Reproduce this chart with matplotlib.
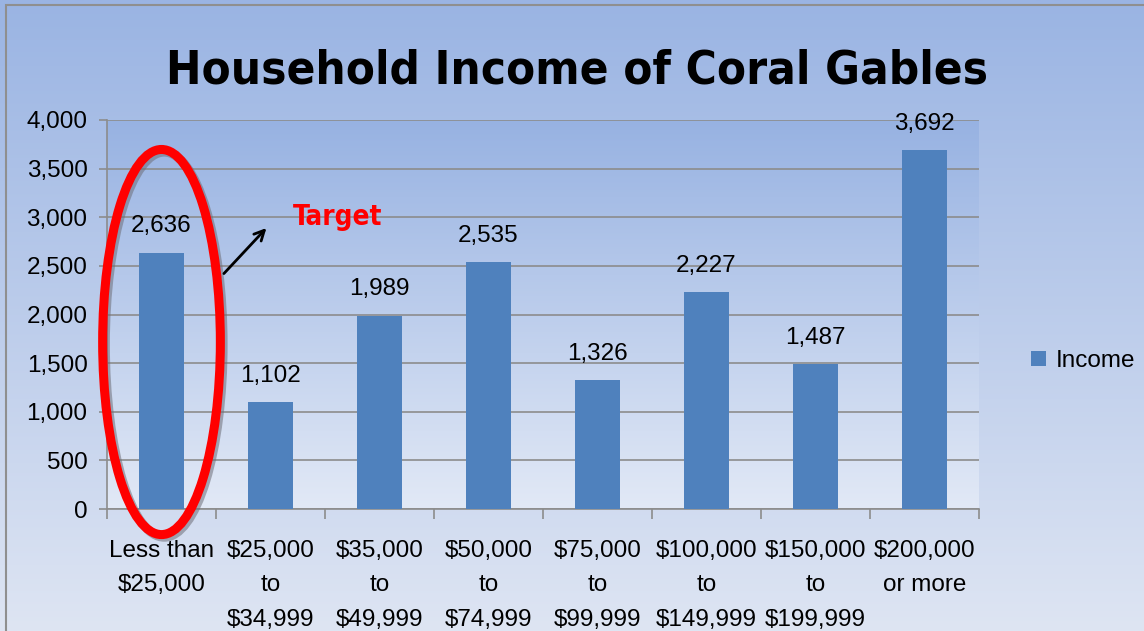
import numpy as np
import matplotlib
matplotlib.use('Agg')
import matplotlib.pyplot as plt
from matplotlib.patches import Ellipse, Rectangle
from matplotlib.colors import LinearSegmentedColormap
from matplotlib import font_manager as fm

# data
categories = ['Less than\n$25,000', '$25,000\nto\n$34,999', '$35,000\nto\n$49,999',
              '$50,000\nto\n$74,999', '$75,000\nto\n$99,999', '$100,000\nto\n$149,999',
              '$150,000\nto\n$199,999', '$200,000\nor more']
income = [2636, 1102, 1989, 2535, 1326, 2227, 1487, 3692]
yticks = [0, 500, 1000, 1500, 2000, 2500, 3000, 3500, 4000]

plt.rcParams['font.family'] = ['Liberation Sans', 'DejaVu Sans']

# look for a narrow bold face for the title (fall back to plain bold)
narrow = None
for f in fm.fontManager.ttflist:
    if ('Narrow' in f.name or 'Condensed' in f.name or f.stretch in ('condensed', 'semi-condensed')) \
            and f.weight in ('bold', 700, 'heavy', 800, 900):
        narrow = f
        break
if narrow is not None:
    title_fp = fm.FontProperties(fname=narrow.fname, size=34)
    target_fp = fm.FontProperties(fname=narrow.fname, size=20)
else:
    title_fp = fm.FontProperties(family='Liberation Sans', weight='bold', size=32)
    target_fp = fm.FontProperties(family='Liberation Sans', weight='bold', size=17)

fs = 17.5

fig = plt.figure(figsize=(11.44, 6.31), dpi=100)

# background gradient for whole figure
bg = fig.add_axes([0, 0, 1, 1], zorder=-10)
cm_bg = LinearSegmentedColormap.from_list('bg', ['#9AB4E3', '#DEE5F3'])
bg.imshow(np.linspace(0, 1, 256).reshape(-1, 1), cmap=cm_bg, aspect='auto', extent=[0, 1, 0, 1])
bg.set_xlim(0, 1)
bg.set_ylim(0, 1)
bg.axis('off')
bg.add_patch(Rectangle((6 / 1144, -0.1), 1.2, 1 - 5 / 631 + 0.1, fill=False,
                       edgecolor='#8f8f8f', linewidth=1.5, transform=bg.transAxes))

ax = fig.add_axes([107 / 1144, 122 / 631, 872 / 1144, 389 / 631])
ax.set_facecolor('none')
cm_ax = LinearSegmentedColormap.from_list('ax', ['#97B2E2', '#E2E9F6'])
ax.imshow(np.linspace(0, 1, 256).reshape(-1, 1), cmap=cm_ax, aspect='auto',
          extent=[0, 1, 0, 1], transform=ax.transAxes, zorder=0)

x = np.arange(len(categories))
ax.bar(x, income, width=0.42, color='#4F81BD', zorder=3, label='Income')

for xi, v in zip(x, income):
    ax.annotate(f'{v:,}', (xi, v), xytext=(0, 11), textcoords='offset points',
                ha='center', va='bottom', fontsize=fs, color='black', zorder=5)

ax.set_xlim(-0.5, len(categories) - 0.5)
ax.set_ylim(0, 4000)
ax.set_yticks(yticks)
ax.set_yticklabels([f'{t:,}' for t in yticks], fontsize=fs)
ax.yaxis.grid(True, color='#8C8C8C', linewidth=1.2)
for gl in ax.get_ygridlines():
    gl.set_zorder(1)

ax.set_xticks(np.arange(len(categories) + 1) - 0.5)
ax.set_xticklabels([])
ax.set_xticks(x, minor=True)
ax.set_xticklabels(categories, minor=True, fontsize=fs, linespacing=1.75, va='top')
ax.tick_params(axis='x', which='minor', length=0, pad=22)
ax.tick_params(axis='x', which='major', length=7, color='#8C8C8C', width=1.2)
ax.tick_params(axis='y', length=6, color='#8C8C8C', width=1.2, pad=8)

for s in ['top', 'right']:
    ax.spines[s].set_visible(False)
for s in ['left', 'bottom']:
    ax.spines[s].set_color('#8C8C8C')
    ax.spines[s].set_linewidth(1.2)

# red target ellipse with a soft grey shadow
shadow = Ellipse((0.025, 1690), 1.08, 3960, fill=False, edgecolor='#6E6E78', linewidth=6.5,
                 alpha=0.55, zorder=5, clip_on=False)
ax.add_patch(shadow)
ell = Ellipse((0, 1717), 1.08, 3960, fill=False, edgecolor='#FF0000', linewidth=6.5,
              zorder=6, clip_on=False)
ax.add_patch(ell)

ax.annotate('', xy=(0.98, 2910), xytext=(0.555, 2400),
            arrowprops=dict(arrowstyle='->', color='black', lw=2, mutation_scale=18), zorder=6)
ax.text(1.62, 3003, 'Target', color='#FF0000', fontproperties=target_fp,
        ha='center', va='center', zorder=6)

fig.text(577 / 1144, 1 - 71 / 631, 'Household Income of Coral Gables',
         fontproperties=title_fp, ha='center', va='center')

ax.legend(loc='center left', bbox_to_anchor=(1031 / 1144, 1 - 361 / 631),
          bbox_transform=fig.transFigure, frameon=False, fontsize=fs,
          handlelength=0.6, handleheight=0.6, handletextpad=0.4,
          borderpad=0, borderaxespad=0)

fig.savefig('out.png', dpi=100)
